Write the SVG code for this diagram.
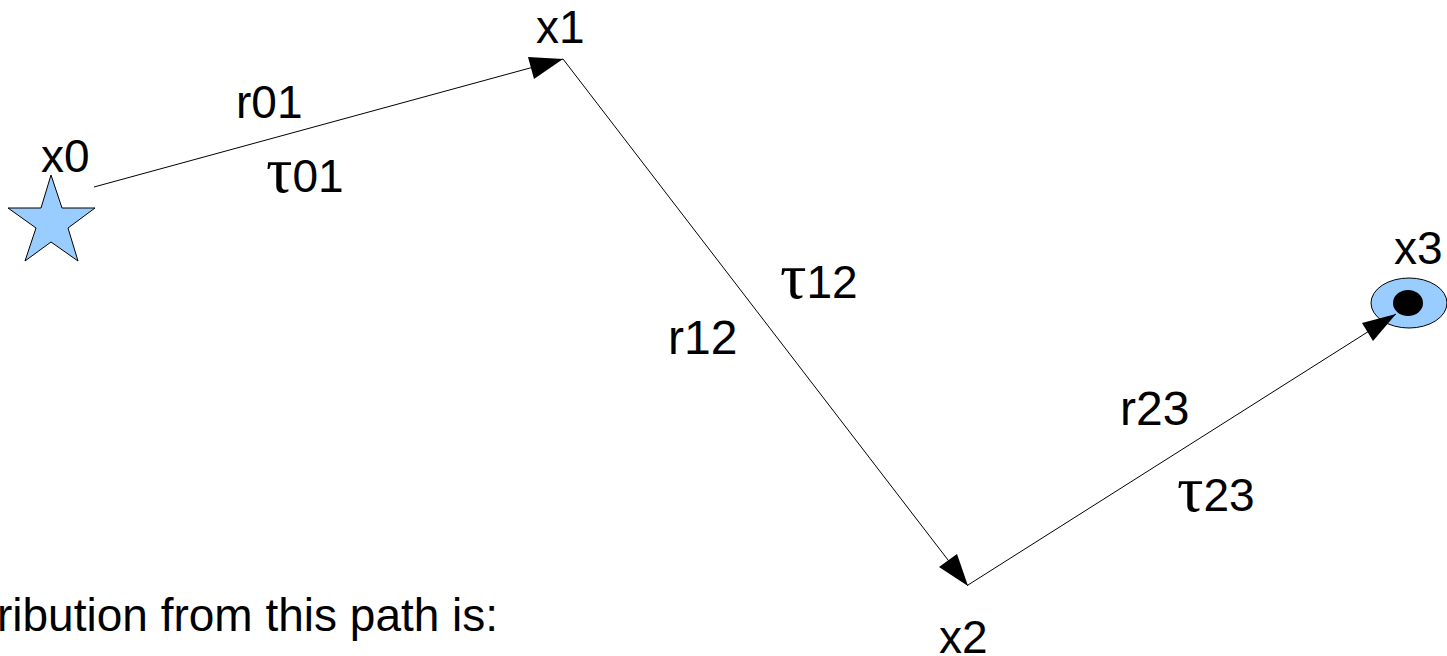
<svg xmlns="http://www.w3.org/2000/svg" width="1447" height="656" viewBox="0 0 1447 656">
<style>
text{font-size:46px;fill:#000}
.t{font-family:"Liberation Sans",sans-serif}
.b{font-size:48px}
.g{font-family:"Liberation Serif",serif;font-size:66px}
.c{fill:none;stroke:#000;stroke-width:1}
.h{fill:#000;stroke:none}
.n{fill:#99ccff;stroke:#000;stroke-width:1}
</style>
<rect width="1447" height="656" fill="#fff"/>
<g id="x0"><polygon class="n" points="51,175 62,208 95,208 68,228 78,261 51,242 25,261 36,228 8,208 41,208"/><text class="t" x="41" y="172">x0</text></g>
<g id="x1"><text class="t" x="536" y="43">x1</text></g>
<g id="x2"><text class="t" x="939" y="653">x2</text></g>
<g id="x3"><ellipse class="n" cx="1409" cy="303" rx="38" ry="25"/><ellipse cx="1408" cy="303" rx="15" ry="13" fill="#000"/><text class="t" x="1394" y="264">x3</text></g>
<g id="connectors">
<path class="c" d="M94 187L563 59"/><polygon class="h" points="563,59 528,57 534,79"/>
<path class="c" d="M563 59L968 586"/><polygon class="h" points="968,586 939,567 957,554"/>
<path class="c" d="M968 585L1396 314"/><polygon class="h" points="1396,314 1362,323 1373,341"/>
</g>
<g id="labels">
<text class="t" x="236" y="118">r01</text>
<text class="t" x="266" y="192"><tspan class="g">τ</tspan>01</text>
<text class="t" x="780" y="298"><tspan class="g">τ</tspan>12</text>
<text class="t b" x="668" y="354">r12</text>
<text class="t b" x="1120" y="425">r23</text>
<text class="t" x="1177" y="511"><tspan class="g">τ</tspan>23</text>
<text class="t" x="-3" y="631">ribution from this path is:</text>
</g>
</svg>
